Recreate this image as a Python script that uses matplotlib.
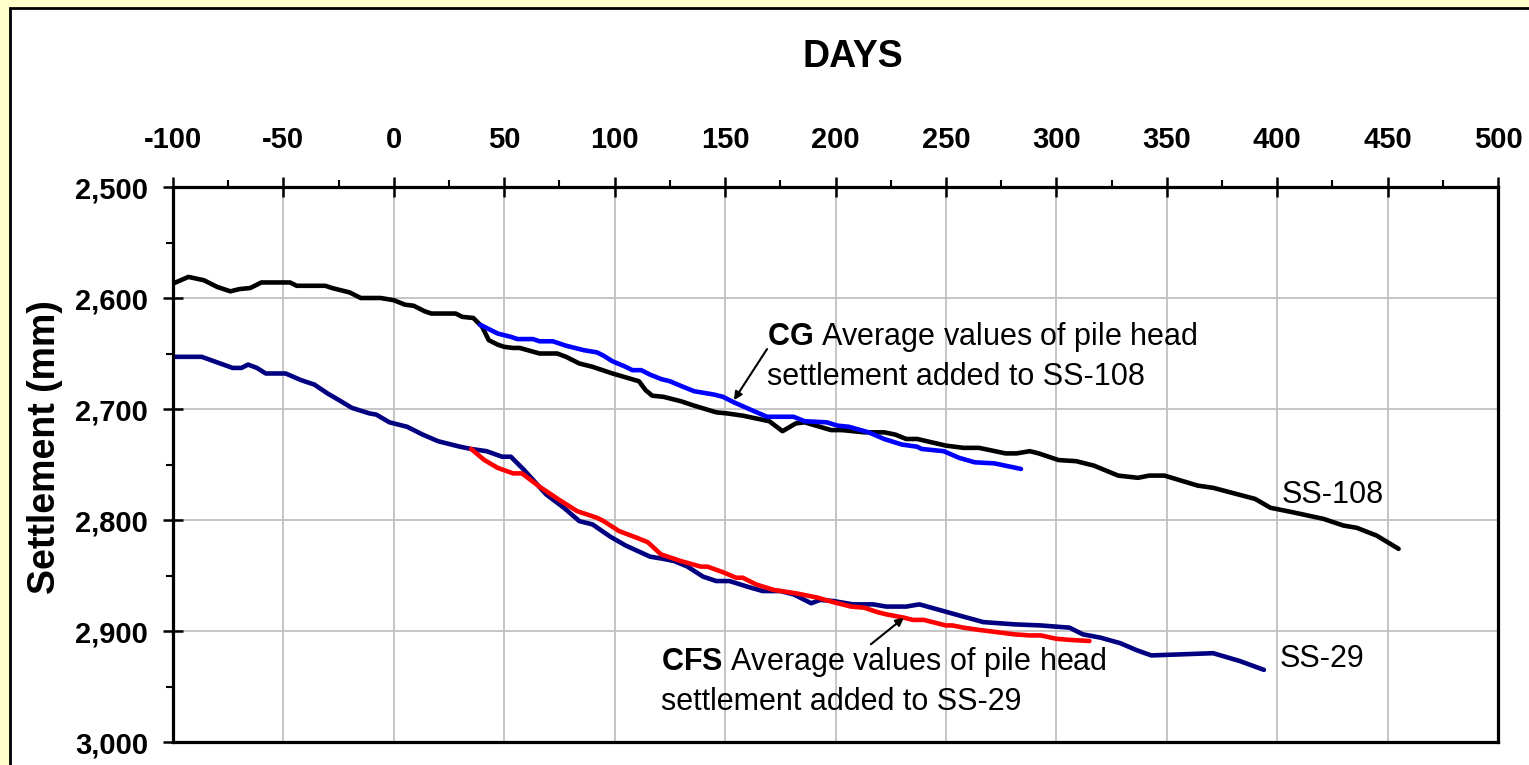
#libraries
import matplotlib.pyplot as plt
from matplotlib.patches import Rectangle
from matplotlib.ticker import MultipleLocator

plt.rcParams['font.family'] = ['Liberation Sans', 'DejaVu Sans']
plt.rcParams['mathtext.fontset'] = 'custom'
plt.rcParams['mathtext.rm'] = 'Liberation Sans'
plt.rcParams['mathtext.bf'] = 'Liberation Sans:bold'

#settlement plate SS-108
ss108_days = [-100, -93, -86, -80, -74, -70, -65, -60, -47, -44,
              -31, -28, -20, -15, -6, 0, 5, 9, 14, 17,
              28, 31, 36, 40, 43, 47, 50, 54, 57, 66,
              74, 78, 84, 90, 99, 111, 114, 117, 122, 130,
              136, 146, 151, 158, 170, 176, 182, 186, 198, 203,
              213, 222, 227, 232, 237, 250, 258, 265, 277, 282,
              288, 292, 301, 309, 317, 328, 337, 342, 349, 364,
              371, 390, 397, 407, 421, 430, 436, 445, 455]
ss108_mm = [2587, 2581, 2584, 2590, 2594, 2592, 2591, 2586, 2586, 2589,
            2589, 2591, 2595, 2600, 2600, 2602, 2606, 2607, 2612, 2614,
            2614, 2617, 2618, 2626, 2638, 2642, 2644, 2645, 2645, 2650,
            2650, 2653, 2659, 2662, 2668, 2675, 2683, 2688, 2689, 2693,
            2697, 2703, 2704, 2706, 2711, 2720, 2713, 2712, 2719, 2719,
            2721, 2721, 2723, 2727, 2727, 2733, 2735, 2735, 2740, 2740,
            2738, 2740, 2746, 2747, 2751, 2760, 2762, 2760, 2760, 2769,
            2771, 2781, 2789, 2793, 2799, 2805, 2807, 2814, 2826]

#CG pile head average added to SS-108
cg_days = [39, 47, 53, 56, 63, 66, 72, 75, 78, 86,
           92, 95, 99, 105, 108, 112, 116, 121, 125, 131,
           136, 142, 145, 149, 154, 162, 169, 181, 186, 196,
           201, 206, 215, 222, 230, 237, 239, 249, 256, 263,
           272, 284]
cg_mm = [2624, 2632, 2635, 2637, 2637, 2639, 2639, 2641, 2643, 2647,
         2649, 2652, 2657, 2662, 2665, 2665, 2669, 2673, 2675, 2680,
         2684, 2686, 2687, 2689, 2694, 2701, 2707, 2707, 2711, 2712,
         2715, 2716, 2721, 2727, 2732, 2734, 2736, 2738, 2744, 2748,
         2749, 2754]

#settlement plate SS-29
ss29_days = [-100, -87, -80, -73, -69, -66, -62, -58, -49, -42,
             -36, -30, -24, -19, -11, -8, -2, 6, 13, 20,
             30, 35, 42, 49, 53, 59, 69, 77, 84, 90,
             98, 105, 116, 122, 127, 133, 140, 146, 152, 160,
             167, 175, 181, 189, 193, 199, 208, 217, 223, 232,
             238, 247, 256, 267, 281, 293, 306, 312, 320, 329,
             336, 343, 371, 383, 394]
ss29_mm = [2653, 2653, 2658, 2663, 2663, 2660, 2663, 2668, 2668, 2674,
           2678, 2686, 2693, 2699, 2704, 2705, 2712, 2716, 2723, 2729,
           2734, 2736, 2738, 2743, 2743, 2755, 2777, 2789, 2801, 2804,
           2815, 2823, 2833, 2835, 2837, 2842, 2851, 2855, 2855, 2860,
           2864, 2864, 2867, 2875, 2872, 2873, 2876, 2876, 2878, 2878,
           2876, 2881, 2886, 2892, 2894, 2895, 2897, 2903, 2906, 2911,
           2917, 2922, 2920, 2927, 2935]

#CFS pile head average added to SS-29
cfs_days = [35, 41, 47, 54, 58, 66, 75, 83, 92, 95,
            102, 110, 115, 121, 130, 139, 142, 149, 155, 158,
            164, 172, 182, 192, 199, 207, 213, 219, 223, 231,
            235, 240, 244, 250, 253, 258, 265, 273, 281, 288,
            293, 300, 306, 315]
cfs_mm = [2736, 2746, 2753, 2758, 2758, 2770, 2782, 2792, 2798, 2801,
          2810, 2816, 2820, 2831, 2837, 2842, 2842, 2847, 2852, 2852,
          2858, 2863, 2866, 2870, 2874, 2878, 2879, 2883, 2885, 2888,
          2890, 2890, 2892, 2895, 2895, 2897, 2899, 2901, 2903, 2904,
          2904, 2907, 2908, 2909]

#axis ticks
x_ticks = [-100, -50, 0, 50, 100, 150, 200, 250, 300, 350, 400, 450, 500]
y_ticks = [2500, 2600, 2700, 2800, 2900, 3000]
y_labels = ["2,500", "2,600", "2,700", "2,800", "2,900", "3,000"]

W, H = 1529, 765
fig = plt.figure(figsize=(W / 100, H / 100), dpi=100, facecolor='#FFFFCC')

# white chart box (runs off the bottom and right edge)
box = Rectangle((10 / W, -0.1), 1.2, 1.1 - 8 / H, transform=fig.transFigure,
                facecolor='white', edgecolor='black', lw=2, zorder=-10)
fig.add_artist(box)

ax = fig.add_axes([173 / W, 1 - 742 / H, (1498 - 173) / W, (742 - 187) / H])
ax.set_facecolor('white')

line_kw = dict(lw=3.3, solid_joinstyle='round', solid_capstyle='round')
ax.plot(ss108_days, ss108_mm, color='black', **line_kw)
ax.plot(cg_days, cg_mm, color='#0000FF', **line_kw)
ax.plot(ss29_days, ss29_mm, color='#000080', **line_kw)
ax.plot(cfs_days, cfs_mm, color='#FF0000', **line_kw)

ax.set_xlim(-100, 500)
ax.set_ylim(3000, 2500)

ax.xaxis.tick_top()
ax.set_xticks(x_ticks, [str(v) for v in x_ticks], fontsize=21, fontweight='bold')
ax.set_yticks(y_ticks, y_labels, fontsize=21, fontweight='bold')
ax.xaxis.set_minor_locator(MultipleLocator(25))
ax.yaxis.set_minor_locator(MultipleLocator(50))

ax.tick_params(axis='x', which='major', direction='inout', length=14, width=1.8, pad=17,
               top=True, bottom=False, labeltop=True, labelbottom=False)
ax.tick_params(axis='x', which='minor', direction='out', length=5, width=1.5,
               top=True, bottom=False)
ax.tick_params(axis='y', which='major', direction='inout', length=14, width=1.8, pad=11,
               left=True, right=False)
ax.tick_params(axis='y', which='minor', direction='out', length=5, width=1.5,
               left=True, right=False)

for s in ax.spines.values():
    s.set_linewidth(2.3)
    s.set_color('black')

ax.grid(True, which='major', color='#C0C0C0', lw=1.3)
ax.set_axisbelow(True)

#titles
fig.text(853 / W, 1 - 57 / H, 'DAYS', ha='center', va='center', fontsize=27, fontweight='bold')
fig.text(45 / W, 1 - 447 / H, 'Settlement (mm)', ha='center', va='center',
         rotation=90, fontsize=27, fontweight='bold')

#annotations
ax.text(169, 2620, r'$\bf{CG}$ Average values of pile head' + '\nsettlement added to SS-108',
        fontsize=22, va='top', ha='left', linespacing=1.32)
ax.annotate('', xy=(154, 2692), xytext=(169, 2646),
            arrowprops=dict(arrowstyle='-|>', color='black', lw=1.5, mutation_scale=12,
                            shrinkA=0, shrinkB=0))

ax.text(121, 2913, r'$\bf{CFS}$ Average values of pile head' + '\nsettlement added to SS-29',
        fontsize=22, va='top', ha='left', linespacing=1.32)
ax.annotate('', xy=(231, 2888), xytext=(216, 2912),
            arrowprops=dict(arrowstyle='-|>', color='black', lw=1.5, mutation_scale=12,
                            shrinkA=0, shrinkB=0))

ax.text(402, 2764, 'SS-108', fontsize=22, va='top', ha='left')
ax.text(401, 2912, 'SS-29', fontsize=22, va='top', ha='left')

fig.savefig('out.png', dpi=100, facecolor=fig.get_facecolor())
